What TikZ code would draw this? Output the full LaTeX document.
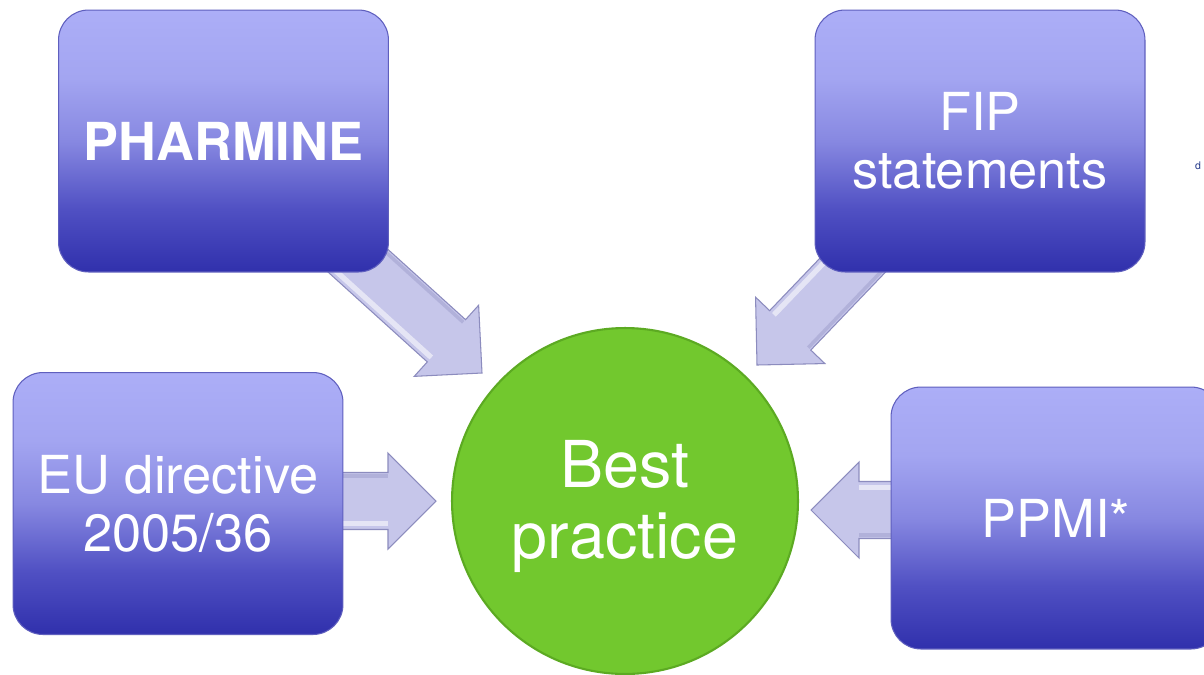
\documentclass[tikz,border=0pt]{standalone}
\usepackage{fontspec}
\setmainfont{TeX Gyre Heros}
\usetikzlibrary{calc}
\pgfdeclarelayer{background}
\pgfsetlayers{background,main}
\definecolor{boxtop}{RGB}{172,174,247}
\definecolor{boxhi}{RGB}{163,165,241}
\definecolor{boxmid}{RGB}{135,136,225}
\definecolor{boxlow}{RGB}{80,80,195}
\definecolor{boxbot}{RGB}{48,48,172}
\definecolor{boxedge}{RGB}{95,95,190}
\definecolor{bpgreen}{RGB}{114,200,46}
\definecolor{bpedge}{RGB}{92,170,34}
\definecolor{arrmid}{RGB}{198,198,234}
\definecolor{arredge}{RGB}{140,140,190}
\definecolor{fragblue}{RGB}{40,60,140}
\pgfdeclareverticalshading{boxshade}{100bp}{color(0bp)=(boxbot); color(25bp)=(boxbot);
  color(37bp)=(boxlow); color(50bp)=(boxmid); color(62bp)=(boxhi); color(75bp)=(boxtop); color(100bp)=(boxtop)}
\tikzset{
  srcbox/.style={rectangle, rounded corners=0.6cm, minimum width=6.6cm,
    minimum height=5.24cm, shading=boxshade, draw=boxedge, line width=0.6pt, text=white,
    align=center, font=\fontsize{29.8}{33}\selectfont, inner sep=0pt},
  hub/.style={circle, minimum size=6.92cm, inner sep=0pt, fill=bpgreen,
    draw=bpedge, line width=1.2pt, text=white, align=center,
    font=\fontsize{36.8}{40.5}\selectfont},
  blockarrow/.style={fill=arrmid, draw=arredge, line width=0.6pt, line join=miter},
  arrowlight/.style={draw=white, line width=3pt, opacity=0.55},
  arrowshade/.style={draw=arredge, line width=2pt, opacity=0.35},
}
\newcommand\blockarr[2]{%
  \path ($(#2)!0.96cm!(#1)$) coordinate (hb);
  \draw[blockarrow]
    ($(#1)!0.57cm!90:(#2)$) -- ($(hb)!0.57cm!90:(#2)$) -- ($(hb)!0.96cm!90:(#2)$) -- (#2)
    -- ($(hb)!0.96cm!-90:(#2)$) -- ($(hb)!0.57cm!-90:(#2)$) -- ($(#1)!0.57cm!-90:(#2)$) -- cycle;
  \draw[arrowlight] ($(#1)!0.45cm!-90:(#2)$) -- ($(hb)!0.45cm!-90:(#2)$);
  \draw[arrowshade] ($(#1)!0.5cm!90:(#2)$) -- ($(hb)!0.5cm!90:(#2)$);
}
\begin{document}
\begin{tikzpicture}[x=0.02cm, y=-0.02cm]
\useasboundingbox (0,0) rectangle (1204,674);
\clip (0,0) rectangle (1204,674);
% nodes
\node[srcbox, font=\bfseries\fontsize{29.8}{33}\selectfont] (pharmine) at (223.5,141) {PHARMINE};
\node[srcbox] (fip) at (980,141) {FIP\\statements};
\node[srcbox] (eu) at (178,503.5) {EU directive\\2005/36};
\node[srcbox] (ppmi) at (1056,518) {PPMI*};
\node[hub] (bp) at (625,501) {\raisebox{-0.16cm}[\height][\depth]{\begin{tabular}{@{}c@{}}Best\\practice\end{tabular}}};
\node[text=fragblue, font=\fontsize{6}{7}\selectfont, inner sep=0pt] (dfrag) at (1198,166) {d};
% arrow end points
\coordinate (t1) at (334,239);  \coordinate (p1) at (482,373);
\coordinate (t2) at (895,221);  \coordinate (p2) at (757,365);
\coordinate (t3) at (300,501);  \coordinate (p3) at (436,501);
\coordinate (t4) at (950,510);  \coordinate (p4) at (811,510);
\begin{pgfonlayer}{background}
  \fill[white] (0,0) rectangle (1204,674);
  \blockarr{t1}{p1}
  \blockarr{t2}{p2}
  \blockarr{t3}{p3}
  \blockarr{t4}{p4}
\end{pgfonlayer}
\end{tikzpicture}
\end{document}
